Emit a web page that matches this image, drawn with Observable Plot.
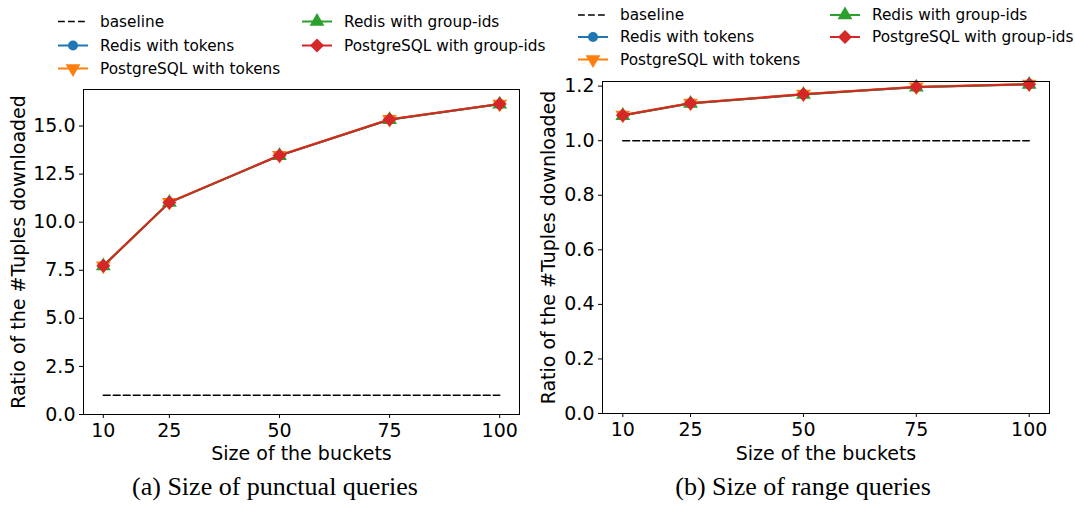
<!DOCTYPE html>
<html><head><meta charset="utf-8">
<script src="https://cdn.jsdelivr.net/npm/d3@7"></script>
<script src="https://cdn.jsdelivr.net/npm/@observablehq/plot@0.6"></script>
<style>
html,body{margin:0;padding:0;background:#fff;}
#root{position:relative;width:1075px;height:505px;overflow:hidden;font-family:"DejaVu Sans",sans-serif;}
#root > svg{position:absolute;top:0;}
</style></head><body><div id="root"></div>
<script>
// ---- data ----
const bucketSizes = [10, 25, 50, 75, 100];
const xTicks = [10, 25, 50, 75, 100];
const seriesNames = ["Redis with tokens", "PostgreSQL with tokens", "Redis with group-ids", "PostgreSQL with group-ids"];
const seriesColors = ["#1f77b4", "#ff7f0e", "#2ca02c", "#d62728"];
const seriesSymbols = ["circle", "triangle", "triangle", "diamond2"];
const seriesRotate = [0, 180, 0, 0];
const baselineName = "baseline";

const punctualBaseline = [1, 1, 1, 1, 1];
const punctualRedisTokens = [7.73, 11.03, 13.47, 15.34, 16.14];
const punctualPgTokens = [7.74, 11.04, 13.48, 15.35, 16.15];
const punctualRedisGroups = [7.72, 11.02, 13.46, 15.33, 16.13];
const punctualPgGroups = [7.73, 11.03, 13.47, 15.34, 16.14];
const punctualYTicks = [0, 2.5, 5, 7.5, 10, 12.5, 15];

const rangeBaseline = [1, 1, 1, 1, 1];
const rangeRedisTokens = [1.093, 1.137, 1.170, 1.197, 1.207];
const rangePgTokens = [1.094, 1.138, 1.171, 1.198, 1.208];
const rangeRedisGroups = [1.092, 1.136, 1.169, 1.196, 1.206];
const rangePgGroups = [1.093, 1.137, 1.170, 1.197, 1.207];
const rangeYTicks = [0, 0.2, 0.4, 0.6, 0.8, 1.0, 1.2];

const yLabel = "Ratio of the #Tuples downloaded";
const xLabel = "Size of the buckets";
const captions = ["(a) Size of punctual queries", "(b) Size of range queries"];

// ---- build ----
const rows = (vals) => bucketSizes.map((s, i) => ({size: s, value: vals[i]}));
const symR = (s) => s === "circle" ? 5 : s === "diamond2" ? 6.3 : 5.5;

function panel({series, baseline, yTicks, yMax, left, mL, mR, mT, mB, yLabelDx, xLabelDy}) {
  const marks = [
    Plot.axisX({ticks: xTicks, tickFormat: d3.format("d"), tickSize: 4, tickPadding: 5, label: null, fontSize: 19}),
    Plot.axisY({ticks: yTicks, tickFormat: d3.format(".1f"), tickSize: 4, tickPadding: 4, label: null, fontSize: 19}),
    Plot.line(rows(baseline), {x: "size", y: "value", stroke: "black", strokeWidth: 1.6, strokeDasharray: "6.8,3.2"})
  ];
  series.forEach((vals, i) => {
    marks.push(Plot.line(rows(vals), {x: "size", y: "value", stroke: seriesColors[i], strokeWidth: 2}));
    marks.push(Plot.dot(rows(vals), {x: "size", y: "value", fill: seriesColors[i], stroke: "none",
      symbol: seriesSymbols[i], rotate: seriesRotate[i], r: symR(seriesSymbols[i])}));
  });
  marks.push(Plot.frame({stroke: "black", strokeWidth: 1}));
  marks.push(Plot.text([xLabel], {text: d => d, frameAnchor: "bottom", lineAnchor: "middle", textAnchor: "middle", dy: xLabelDy, fontSize: 19, fill: "black"}));
  marks.push(Plot.text([yLabel], {text: d => d, frameAnchor: "left", lineAnchor: "middle", textAnchor: "middle", dx: yLabelDx, rotate: -90, fontSize: 19, fill: "black"}));
  const svg = Plot.plot({
    width: 540, height: 505, marginLeft: mL, marginRight: mR, marginTop: mT, marginBottom: mB,
    style: {fontFamily: "DejaVu Sans", fontSize: "19px", color: "black", background: "transparent", overflow: "visible"},
    x: {domain: [5.5, 104.5]},
    y: {domain: [0, yMax]},
    marks
  });
  svg.style.left = left + "px";
  return svg;
}

const root = document.getElementById("root");
root.appendChild(panel({
  series: [punctualRedisTokens, punctualPgTokens, punctualRedisGroups, punctualPgGroups],
  baseline: punctualBaseline, yTicks: punctualYTicks, yMax: 16.9,
  left: 0, mL: 83, mR: 21, mT: 89, mB: 91, yLabelDx: -65, xLabelDy: 39
}));
root.appendChild(panel({
  series: [rangeRedisTokens, rangePgTokens, rangeRedisGroups, rangePgGroups],
  baseline: rangeBaseline, yTicks: rangeYTicks, yMax: 1.217,
  left: 535, mL: 67, mR: 26, mT: 81, mB: 92, yLabelDx: -54, xLabelDy: 40
}));

// ---- legends & captions overlay ----
const ov = d3.select(root).append("svg").attr("width", 1075).attr("height", 505).style("left", "0px");
function legend(col1x, col2x, rowYs) {
  const entries = [
    {name: baselineName, col: 0, row: 0, dash: true},
    {name: seriesNames[0], col: 0, row: 1, i: 0},
    {name: seriesNames[1], col: 0, row: 2, i: 1},
    {name: seriesNames[2], col: 1, row: 0, i: 2},
    {name: seriesNames[3], col: 1, row: 1, i: 3}
  ];
  entries.forEach(e => {
    const x0 = e.col === 0 ? col1x : col2x;
    const y = rowYs[e.row];
    const g = ov.append("g");
    if (e.dash) {
      g.append("line").attr("x1", x0).attr("x2", x0 + 30).attr("y1", y).attr("y2", y)
        .attr("stroke", "black").attr("stroke-width", 1.6).attr("stroke-dasharray", "6.8,3.2");
    } else {
      const c = seriesColors[e.i];
      g.append("line").attr("x1", x0).attr("x2", x0 + 30).attr("y1", y).attr("y2", y)
        .attr("stroke", c).attr("stroke-width", 2);
      const sym = {circle: d3.symbolCircle, triangle: d3.symbolTriangle, diamond2: d3.symbolDiamond2}[seriesSymbols[e.i]];
      const r = symR(seriesSymbols[e.i]);
      g.append("path").attr("d", d3.symbol(sym, Math.PI * r * r)())
        .attr("transform", `translate(${x0 + 15},${y}) rotate(${seriesRotate[e.i]})`).attr("fill", c);
    }
    g.append("text").attr("x", x0 + 42).attr("y", y).attr("dy", "0.35em")
      .attr("font-family", "DejaVu Sans").attr("font-size", 15.3).attr("fill", "black").text(e.name);
  });
}
legend(58, 302, [21.5, 45.5, 68.5]);
legend(578, 830, [15, 37, 59.5]);

ov.append("text").attr("x", 275).attr("y", 495).attr("text-anchor", "middle")
  .attr("font-family", "Liberation Serif").attr("font-size", 26).attr("fill", "black").text(captions[0]);
ov.append("text").attr("x", 803).attr("y", 495).attr("text-anchor", "middle")
  .attr("font-family", "Liberation Serif").attr("font-size", 26).attr("fill", "black").text(captions[1]);
</script></body></html>
